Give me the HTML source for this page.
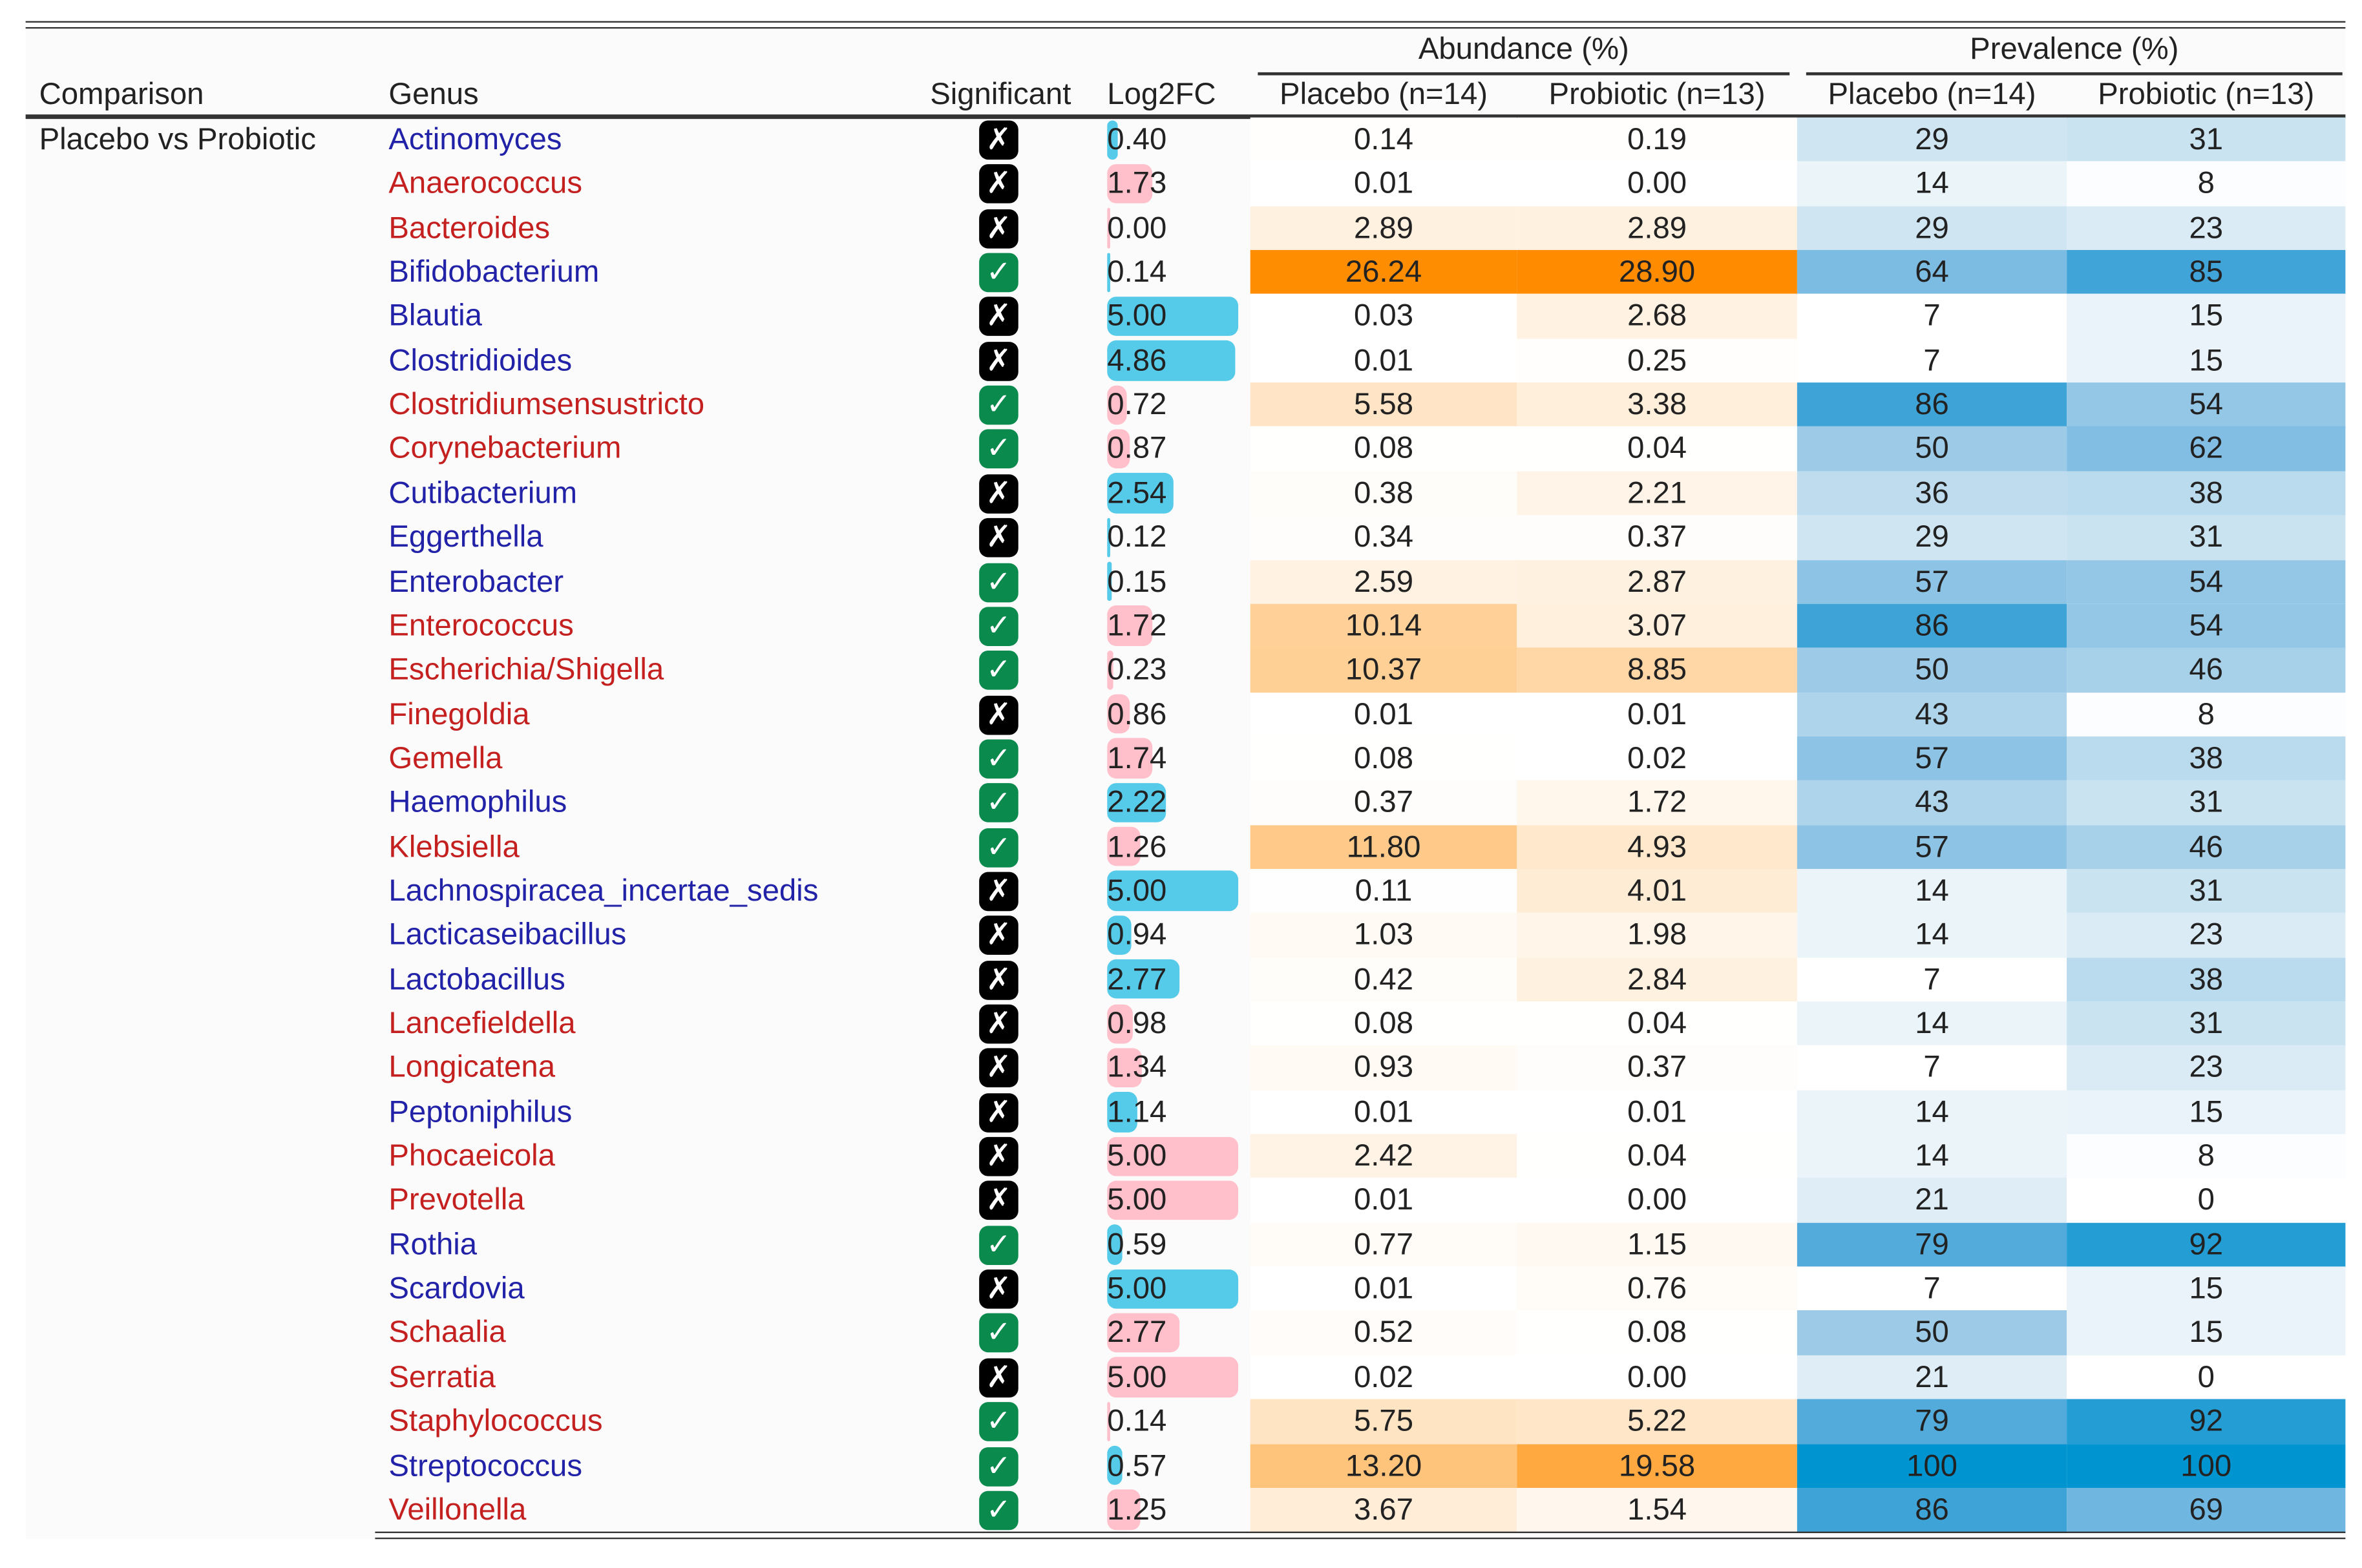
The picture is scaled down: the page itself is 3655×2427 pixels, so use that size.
<!DOCTYPE html>
<html><head><meta charset="utf-8"><style>
html,body{margin:0;padding:0;background:#fff;}
body{width:3655px;height:2426px;overflow:hidden;position:relative;font-family:"Liberation Sans",Arial,sans-serif;}
#stage{position:absolute;left:0;top:0;width:1568px;height:1041px;transform:scale(2.331);transform-origin:0 0;}
.a{position:absolute;white-space:nowrap;}
.t{font-size:20.3px;line-height:20px;color:#222;}
</style></head><body>
<div id="stage">
  <div class="a" style="left:17px;top:18px;width:1540px;height:1004px;background:#fbfbfb"></div>
  <div class="a" style="left:17px;top:14px;width:1540px;height:5px;border-top:1.5px solid #333;border-bottom:1.5px solid #333;box-sizing:border-box"></div>
  <div class="a t" style="left:835px;width:353px;top:23px;text-align:center">Abundance (%)</div>
  <div class="a" style="left:835px;top:48px;width:353px;height:2px;background:#333"></div>
  <div class="a t" style="left:1199px;width:356px;top:23px;text-align:center">Prevalence (%)</div>
  <div class="a" style="left:1199px;top:48px;width:356px;height:2px;background:#333"></div>
  <div class="a t" style="left:26px;top:53px">Comparison</div>
  <div class="a t" style="left:258px;top:53px">Genus</div>
  <div class="a t" style="left:600px;width:111px;top:53px;text-align:right">Significant</div>
  <div class="a t" style="left:735px;top:53px">Log2FC</div>
  <div class="a t" style="left:830px;width:177px;top:53px;text-align:center">Placebo (n=14)</div>
  <div class="a t" style="left:1007px;width:186px;top:53px;text-align:center">Probiotic (n=13)</div>
  <div class="a t" style="left:1193px;width:179px;top:53px;text-align:center">Placebo (n=14)</div>
  <div class="a t" style="left:1372px;width:185px;top:53px;text-align:center">Probiotic (n=13)</div>
  <div class="a" style="left:17px;top:76px;width:1540px;height:2.5px;background:#333"></div>
  <div class="a t" style="left:26px;top:83px">Placebo vs Probiotic</div>
  <div id="rows"></div>
  <div class="a" style="left:249px;top:1017px;width:1308px;height:5px;border-top:1.5px solid #333;border-bottom:1.5px solid #333;box-sizing:border-box"></div>
</div>
<script>
const genera=["Actinomyces","Anaerococcus","Bacteroides","Bifidobacterium","Blautia","Clostridioides","Clostridiumsensustricto","Corynebacterium","Cutibacterium","Eggerthella","Enterobacter","Enterococcus","Escherichia/Shigella","Finegoldia","Gemella","Haemophilus","Klebsiella","Lachnospiracea_incertae_sedis","Lacticaseibacillus","Lactobacillus","Lancefieldella","Longicatena","Peptoniphilus","Phocaeicola","Prevotella","Rothia","Scardovia","Schaalia","Serratia","Staphylococcus","Streptococcus","Veillonella"];
const significant=[0,0,0,1,0,0,1,1,0,0,1,1,1,0,1,1,1,0,0,0,0,0,0,0,0,1,0,1,0,1,1,1];
const log2fc=[0.40,-1.73,-0.00,0.14,5.00,4.86,-0.72,-0.87,2.54,0.12,0.15,-1.72,-0.23,-0.86,-1.74,2.22,-1.26,5.00,0.94,2.77,-0.98,-1.34,1.14,-5.00,-5.00,0.59,5.00,-2.77,-5.00,-0.14,0.57,-1.25];
const abundancePlacebo=[0.14,0.01,2.89,26.24,0.03,0.01,5.58,0.08,0.38,0.34,2.59,10.14,10.37,0.01,0.08,0.37,11.80,0.11,1.03,0.42,0.08,0.93,0.01,2.42,0.01,0.77,0.01,0.52,0.02,5.75,13.20,3.67];
const abundanceProbiotic=[0.19,0.00,2.89,28.90,2.68,0.25,3.38,0.04,2.21,0.37,2.87,3.07,8.85,0.01,0.02,1.72,4.93,4.01,1.98,2.84,0.04,0.37,0.01,0.04,0.00,1.15,0.76,0.08,0.00,5.22,19.58,1.54];
const prevalencePlacebo=[29,14,29,64,7,7,86,50,36,29,57,86,50,43,57,43,57,14,14,7,14,7,14,14,21,79,7,50,21,79,100,86];
const prevalenceProbiotic=[31,8,23,85,15,15,54,62,38,31,54,54,46,8,38,31,46,31,23,38,31,23,15,8,0,92,15,15,0,92,100,69];

const rowTop=78, rowH=29.35;
function yRow(i){return rowTop+i*rowH;}
function xBar(v){return Math.max(2,Math.min(Math.abs(v),5)/5*87);}
function mix(c1,c2,t){const a=[1,3,5].map(k=>parseInt(c1.substr(k,2),16)),b=[1,3,5].map(k=>parseInt(c2.substr(k,2),16));return 'rgb('+a.map((x,j)=>Math.round(x+(b[j]-x)*t)).join(',')+')';}
function orange(v){const t=Math.min(v/26.5,1);return mix('#ffffff','#ff8c00',Math.pow(t,0.95));}
const bs=[[0,'#ffffff'],[7,'#ffffff'],[14,'#ebf4f9'],[29,'#cfe5f2'],[50,'#9dcbe7'],[64,'#7dbce2'],[86,'#3ea3d7'],[100,'#0094d0']];
function blue(v){for(let k=1;k<bs.length;k++){if(v<=bs[k][0]){const t=(v-bs[k-1][0])/(bs[k][0]-bs[k-1][0]);return mix(bs[k-1][1],bs[k][1],t);}}return bs[bs.length-1][1];}

const root=document.getElementById('rows');
function add(name,inter,style,text){const d=document.createElement('div');d.className='a';


d.style.cssText=style;if(text!==undefined)d.textContent=text;root.appendChild(d);return d;}
const cols=[[830,177,abundancePlacebo,orange,v=>v.toFixed(2),'abundance-placebo-cell'],[1007,186,abundanceProbiotic,orange,v=>v.toFixed(2),'abundance-probiotic-cell'],[1193,179,prevalencePlacebo,blue,v=>String(v),'prevalence-placebo-cell'],[1372,185,prevalenceProbiotic,blue,v=>String(v),'prevalence-probiotic-cell']];
genera.forEach((g,i)=>{
  const y=yRow(i), up=log2fc[i]>0 || (log2fc[i]===0 && !Object.is(log2fc[i],-0));
  cols.forEach(c=>{
    add(c[5],'false',`left:${c[0]}px;top:${y}px;width:${c[1]}px;height:${rowH+0.5}px;background:${c[3](c[2][i])};font-size:20.3px;line-height:${rowH+1}px;text-align:center;color:#222`,c[4](c[2][i]));
  });
  add('genus-label','false',`left:258px;top:${y}px;line-height:${rowH+1}px;font-size:20.3px;color:${up?'#2222a8':'#c42020'}`,g);
  add(significant[i]?'significant-check-icon':'not-significant-icon','false',`left:650px;top:${y+2}px;width:26px;height:26px;border-radius:6px;background:${significant[i]?'#0b8a4e':'#000'};color:#fff;font-size:20px;line-height:26px;text-align:center`,significant[i]?'✓':'✗');
  add('log2fc-bar','false',`left:735px;top:${y+1.5}px;width:${xBar(log2fc[i])}px;height:${rowH-3}px;border-radius:6px;background:${up?'#56cbe9':'#ffc0cb'}`);
  add('log2fc-value','false',`left:735px;top:${y}px;line-height:${rowH+1}px;font-size:20.3px;color:#222`,Math.abs(log2fc[i]).toFixed(2));
});
</script>
</body></html>
